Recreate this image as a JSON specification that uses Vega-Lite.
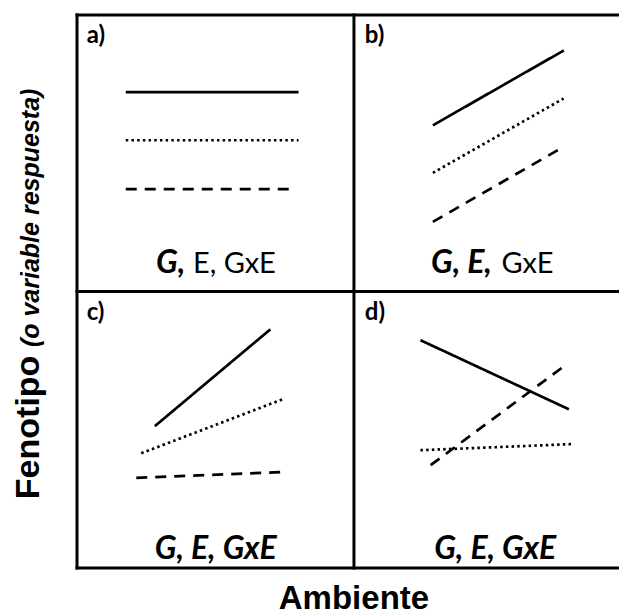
{
  "$schema": "https://vega.github.io/schema/vega-lite/v6.json",
  "width": 542,
  "height": 553,
  "autosize": "none",
  "padding": {"left": 77, "top": 15, "right": 0, "bottom": 48},
  "background": "white",
  "config": {"view": {"stroke": null}},
  "datasets": {
    "marco": [
      {"x": 0, "y": 0, "x2": 0, "y2": 20},
      {"x": 10, "y": 0, "x2": 10, "y2": 20},
      {"x": 20, "y": 0, "x2": 20, "y2": 20},
      {"x": 0, "y": 0, "x2": 20, "y2": 0},
      {"x": 0, "y": 10, "x2": 20, "y2": 10},
      {"x": 0, "y": 20, "x2": 20, "y2": 20}
    ],
    "normas": [
      {"panel": "a", "genotipo": "G1", "x": 1.76, "y": 17.21},
      {"panel": "a", "genotipo": "G1", "x": 8.0, "y": 17.21},
      {"panel": "a", "genotipo": "G2", "x": 1.76, "y": 15.47},
      {"panel": "a", "genotipo": "G2", "x": 8.0, "y": 15.47},
      {"panel": "a", "genotipo": "G3", "x": 1.76, "y": 13.7},
      {"panel": "a", "genotipo": "G3", "x": 7.78, "y": 13.7},
      {"panel": "b", "genotipo": "G1", "x": 12.85, "y": 16.01},
      {"panel": "b", "genotipo": "G1", "x": 17.58, "y": 18.72},
      {"panel": "b", "genotipo": "G2", "x": 12.85, "y": 14.29},
      {"panel": "b", "genotipo": "G2", "x": 17.57, "y": 16.98},
      {"panel": "b", "genotipo": "G3", "x": 12.85, "y": 12.52},
      {"panel": "b", "genotipo": "G3", "x": 17.39, "y": 15.13},
      {"panel": "c", "genotipo": "G1", "x": 2.81, "y": 5.13},
      {"panel": "c", "genotipo": "G1", "x": 6.98, "y": 8.63},
      {"panel": "c", "genotipo": "G2", "x": 2.32, "y": 4.15},
      {"panel": "c", "genotipo": "G2", "x": 7.42, "y": 6.1},
      {"panel": "c", "genotipo": "G3", "x": 2.14, "y": 3.26},
      {"panel": "c", "genotipo": "G3", "x": 7.38, "y": 3.47},
      {"panel": "d", "genotipo": "G1", "x": 12.4, "y": 8.24},
      {"panel": "d", "genotipo": "G1", "x": 17.76, "y": 5.74},
      {"panel": "d", "genotipo": "G2", "x": 12.4, "y": 4.26},
      {"panel": "d", "genotipo": "G2", "x": 17.85, "y": 4.48},
      {"panel": "d", "genotipo": "G3", "x": 12.77, "y": 3.72},
      {"panel": "d", "genotipo": "G3", "x": 17.52, "y": 7.25}
    ],
    "letras": [
      {"texto": "a)", "x": 0.35, "y": 18.99},
      {"texto": "b)", "x": 10.39, "y": 18.99},
      {"texto": "c)", "x": 0.35, "y": 8.96},
      {"texto": "d)", "x": 10.39, "y": 8.96}
    ],
    "efectosFuertesFin": [
      {"texto": "G,", "x": 3.91, "y": 10.66},
      {"texto": "G, E,", "x": 14.98, "y": 10.66}
    ],
    "efectosDebiles": [
      {"texto": "E, GxE", "x": 4.19, "y": 10.66},
      {"texto": "GxE", "x": 15.33, "y": 10.66}
    ],
    "efectosFuertesCentro": [
      {"texto": "G, E, GxE", "x": 5.01, "y": 0.34},
      {"texto": "G, E, GxE", "x": 15.1, "y": 0.34}
    ]
  },
  "layer": [
    {
      "data": {"name": "marco"},
      "mark": {"type": "rule", "color": "black", "strokeWidth": 3, "strokeCap": "square"},
      "encoding": {
        "x": {"field": "x", "type": "quantitative", "scale": {"domain": [0, 19.57], "nice": false, "zero": false}, "axis": null},
        "y": {"field": "y", "type": "quantitative", "scale": {"domain": [0, 20], "nice": false, "zero": false}, "axis": null},
        "x2": {"field": "x2"},
        "y2": {"field": "y2"}
      }
    },
    {
      "data": {"name": "normas"},
      "mark": {"type": "line", "color": "black", "strokeWidth": 2.7, "strokeCap": "butt"},
      "encoding": {
        "x": {"field": "x", "type": "quantitative"},
        "y": {"field": "y", "type": "quantitative"},
        "detail": {"field": "panel"},
        "strokeDash": {
          "field": "genotipo",
          "type": "nominal",
          "scale": {"domain": ["G1", "G2", "G3"], "range": [[1, 0], [2.5, 3.2], [11, 8]]},
          "legend": null
        }
      }
    },
    {
      "data": {"name": "letras"},
      "mark": {"type": "text", "font": "Lato", "fontWeight": "bold", "fontSize": 24, "align": "left", "baseline": "alphabetic", "color": "black"},
      "encoding": {
        "x": {"field": "x", "type": "quantitative"},
        "y": {"field": "y", "type": "quantitative"},
        "text": {"field": "texto"}
      }
    },
    {
      "data": {"name": "efectosFuertesFin"},
      "mark": {"type": "text", "font": "Lato", "fontWeight": "bold", "fontStyle": "italic", "fontSize": 32, "align": "right", "baseline": "alphabetic", "color": "black"},
      "encoding": {
        "x": {"field": "x", "type": "quantitative"},
        "y": {"field": "y", "type": "quantitative"},
        "text": {"field": "texto"}
      }
    },
    {
      "data": {"name": "efectosDebiles"},
      "mark": {"type": "text", "font": "Lato", "fontWeight": "normal", "fontSize": 29, "align": "left", "baseline": "alphabetic", "color": "black"},
      "encoding": {
        "x": {"field": "x", "type": "quantitative"},
        "y": {"field": "y", "type": "quantitative"},
        "text": {"field": "texto"}
      }
    },
    {
      "data": {"name": "efectosFuertesCentro"},
      "mark": {"type": "text", "font": "Lato", "fontWeight": "bold", "fontStyle": "italic", "fontSize": 32, "align": "center", "baseline": "alphabetic", "color": "black"},
      "encoding": {
        "x": {"field": "x", "type": "quantitative"},
        "y": {"field": "y", "type": "quantitative"},
        "text": {"field": "texto"}
      }
    },
    {
      "data": {"values": [{"texto": "Fenotipo", "x": -1.36, "y": 2.49}]},
      "mark": {"type": "text", "font": "Liberation Sans", "fontWeight": "bold", "fontSize": 34, "angle": 270, "align": "left", "baseline": "alphabetic", "color": "black"},
      "encoding": {
        "x": {"field": "x", "type": "quantitative"},
        "y": {"field": "y", "type": "quantitative"},
        "text": {"field": "texto"}
      }
    },
    {
      "data": {"values": [{"texto": "(o variable respuesta)", "x": -1.36, "y": 7.99}]},
      "mark": {"type": "text", "font": "Liberation Sans", "fontWeight": "bold", "fontStyle": "italic", "fontSize": 25, "angle": 270, "align": "left", "baseline": "alphabetic", "color": "black"},
      "encoding": {
        "x": {"field": "x", "type": "quantitative"},
        "y": {"field": "y", "type": "quantitative"},
        "text": {"field": "texto"}
      }
    },
    {
      "data": {"values": [{"texto": "Ambiente", "x": 10, "y": -1.48}]},
      "mark": {"type": "text", "font": "Liberation Sans", "fontWeight": "bold", "fontSize": 33, "align": "center", "baseline": "alphabetic", "color": "black"},
      "encoding": {
        "x": {"field": "x", "type": "quantitative"},
        "y": {"field": "y", "type": "quantitative"},
        "text": {"field": "texto"}
      }
    }
  ]
}
